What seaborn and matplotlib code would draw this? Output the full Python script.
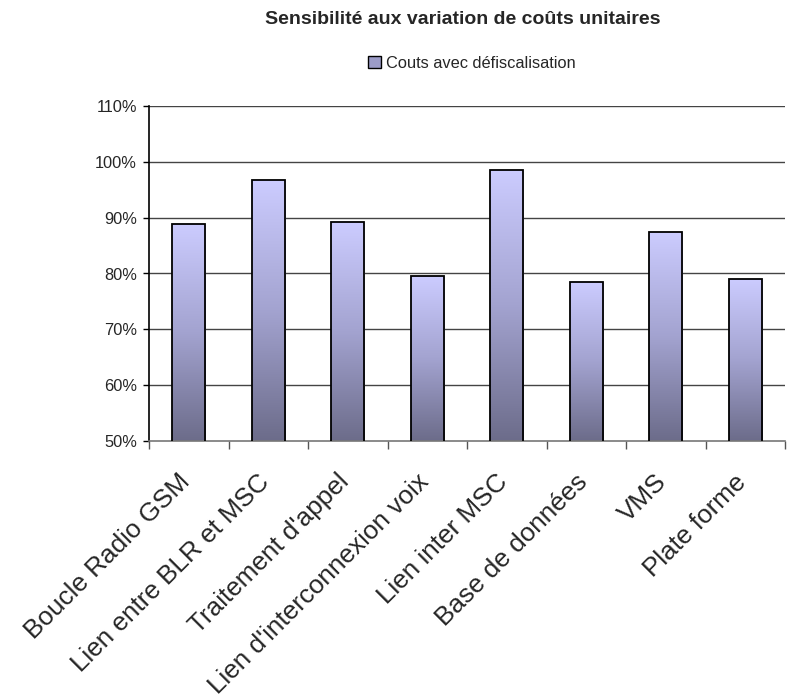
import numpy as np
import pandas as pd
import matplotlib
matplotlib.use("Agg")
import matplotlib.pyplot as plt
from matplotlib.patches import Patch
from matplotlib.ticker import FixedLocator, FuncFormatter
from matplotlib.colors import LinearSegmentedColormap
from matplotlib.transforms import ScaledTranslation
import seaborn as sns

categories = [
    "Boucle Radio GSM",
    "Lien entre BLR et MSC",
    "Traitement d'appel",
    "Lien d'interconnexion voix",
    "Lien inter MSC",
    "Base de données",
    "VMS",
    "Plate forme",
]
values = [88.9, 96.7, 89.2, 79.5, 98.6, 78.5, 87.5, 79.1]
series_name = "Couts avec défiscalisation"
title = "Sensibilité aux variation de coûts unitaires"
y_ticks = [50, 60, 70, 80, 90, 100, 110]

sns.set_style("white")
plt.rcParams["font.family"] = ["Liberation Sans", "DejaVu Sans"]

df = pd.DataFrame({"cat": categories, "val": values})

W, H = 787, 698
fig = plt.figure(figsize=(W / 100, H / 100), dpi=100)
ax = fig.add_axes([149 / W, 1 - 441 / H, 636 / W, 335 / H])

sns.barplot(data=df, x="cat", y="val", ax=ax, width=0.42,
            color="#ccccff", edgecolor="black", linewidth=1.3, zorder=3)

# vertical light-to-dark fill inside each bar
y0, y1 = y_ticks[0], y_ticks[-1]
grad_cmap = LinearSegmentedColormap.from_list("bar_grad", ["#6c6c8a", "#a3a3d0", "#ccccff"])
grad = np.linspace(0, 1, 256).reshape(-1, 1)
for p in ax.patches:
    x, w, h = p.get_x(), p.get_width(), p.get_height()
    p.set_facecolor("none")
    im = ax.imshow(grad, cmap=grad_cmap, origin="lower", aspect="auto",
                   extent=[x, x + w, y0, h], zorder=2.5, interpolation="bilinear")
    im.set_clip_path(p)

ax.set_xlim(-0.5, len(categories) - 0.5)
ax.set_ylim(y0, y1)

# grid and y axis
ax.yaxis.set_major_locator(FixedLocator(y_ticks))
ax.yaxis.set_major_formatter(FuncFormatter(lambda v, _: f"{v:.0f}%"))
for t in y_ticks[1:]:
    ax.axhline(t, color="#444444", linewidth=1.0, zorder=1)
ax.tick_params(axis="y", which="major", left=True, length=4.5, width=1,
               color="black", labelsize=11.8, pad=4.3)

# x axis: labels under bar centers, ticks at category boundaries
ax.set_xticks(range(len(categories)))
ax.set_xticklabels(categories, rotation=45, ha="right", rotation_mode="anchor",
                   fontsize=18.8)
ax.set_xticks(np.arange(-0.5, len(categories) + 0.5, 1), minor=True)
ax.tick_params(axis="x", which="major", length=0, pad=12)
ax.tick_params(axis="x", which="minor", bottom=True, length=5.8, width=1, color="#555555")
shift = ScaledTranslation(-11 / 100, -12 / 100, fig.dpi_scale_trans)
for lab in ax.get_xticklabels():
    lab.set_transform(lab.get_transform() + shift)
ax.set_xlabel("")
ax.set_ylabel("")

for s in ["top", "right"]:
    ax.spines[s].set_visible(False)
ax.spines["left"].set_color("black")
ax.spines["left"].set_linewidth(1.2)
ax.spines["bottom"].set_color("#777777")
ax.spines["bottom"].set_linewidth(1.2)

fig.text(463 / W, 1 - 20 / H, title, ha="center", va="center",
         fontsize=14, fontweight="bold")

handle = Patch(facecolor="#9c9cc8", edgecolor="black", linewidth=1.0)
fig.legend([handle], [series_name], loc="center", bbox_to_anchor=(472 / W, 1 - 63 / H),
           frameon=False, fontsize=11.8, handlelength=0.8, handleheight=0.8,
           handletextpad=0.3, borderaxespad=0, borderpad=0)

fig.savefig("out.png", dpi=100)
